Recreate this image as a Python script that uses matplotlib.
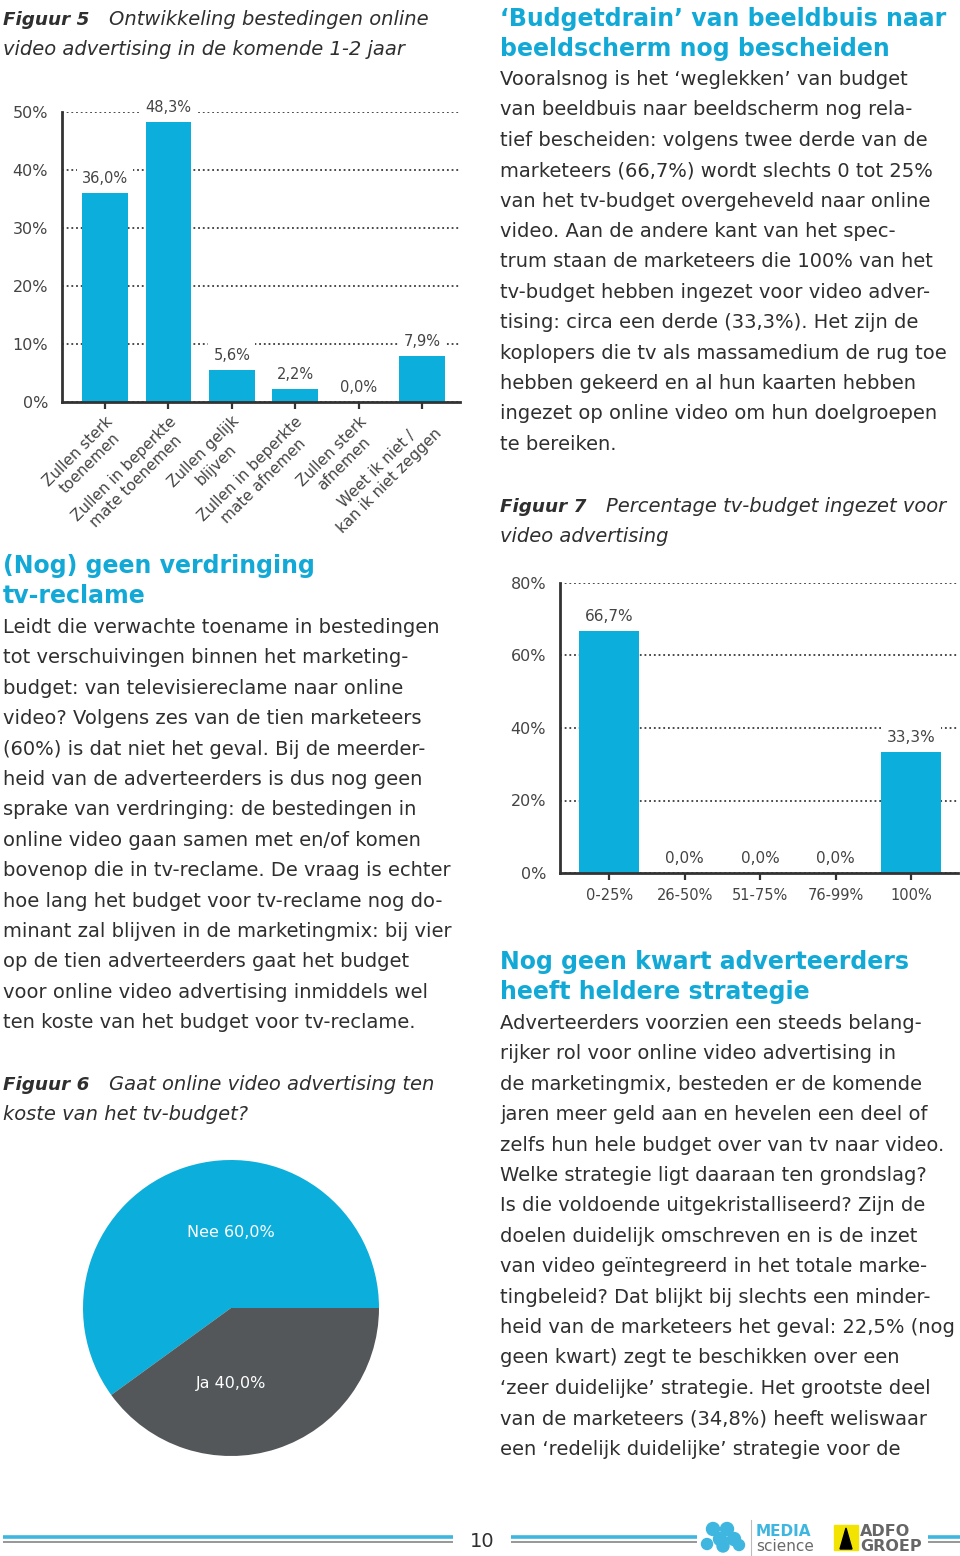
import matplotlib

matplotlib.use("Agg")
import matplotlib.pyplot as plt
from matplotlib.patches import Circle, Rectangle, Polygon


W, H = 960, 1556
CYAN = "#0caedb"
HEAD = "#12a9d7"
DARK = "#2f2f2f"
GREY = "#53575a"
FONT = "DejaVu Sans"

# Figuur 5
fig5_categories = [
    "Zullen sterk\ntoenemen",
    "Zullen in beperkte\nmate toenemen",
    "Zullen gelijk\nblijven",
    "Zullen in beperkte\nmate afnemen",
    "Zullen sterk\nafnemen",
    "Weet ik niet /\nkan ik niet zeggen",
]
fig5_values = [36.0, 48.3, 5.6, 2.2, 0.0, 7.9]
fig5_ticks = [0, 10, 20, 30, 40, 50]

# Figuur 6
fig6_labels = ["Nee", "Ja"]
fig6_values = [60.0, 40.0]

# Figuur 7
fig7_categories = ["0-25%", "26-50%", "51-75%", "76-99%", "100%"]
fig7_values = [66.7, 0.0, 0.0, 0.0, 33.3]
fig7_ticks = [0, 20, 40, 60, 80]

left_body = [
    "Leidt die verwachte toename in bestedingen",
    "tot verschuivingen binnen het marketing-",
    "budget: van televisiereclame naar online",
    "video? Volgens zes van de tien marketeers",
    "(60%) is dat niet het geval. Bij de meerder-",
    "heid van de adverteerders is dus nog geen",
    "sprake van verdringing: de bestedingen in",
    "online video gaan samen met en/of komen",
    "bovenop die in tv-reclame. De vraag is echter",
    "hoe lang het budget voor tv-reclame nog do-",
    "minant zal blijven in de marketingmix: bij vier",
    "op de tien adverteerders gaat het budget",
    "voor online video advertising inmiddels wel",
    "ten koste van het budget voor tv-reclame.",
]
right_body_1 = [
    "Vooralsnog is het \u2018weglekken\u2019 van budget",
    "van beeldbuis naar beeldscherm nog rela-",
    "tief bescheiden: volgens twee derde van de",
    "marketeers (66,7%) wordt slechts 0 tot 25%",
    "van het tv-budget overgeheveld naar online",
    "video. Aan de andere kant van het spec-",
    "trum staan de marketeers die 100% van het",
    "tv-budget hebben ingezet voor video adver-",
    "tising: circa een derde (33,3%). Het zijn de",
    "koplopers die tv als massamedium de rug toe",
    "hebben gekeerd en al hun kaarten hebben",
    "ingezet op online video om hun doelgroepen",
    "te bereiken.",
]
right_body_2 = [
    "Adverteerders voorzien een steeds belang-",
    "rijker rol voor online video advertising in",
    "de marketingmix, besteden er de komende",
    "jaren meer geld aan en hevelen een deel of",
    "zelfs hun hele budget over van tv naar video.",
    "Welke strategie ligt daaraan ten grondslag?",
    "Is die voldoende uitgekristalliseerd? Zijn de",
    "doelen duidelijk omschreven en is de inzet",
    "van video ge\u00efntegreerd in het totale marke-",
    "tingbeleid? Dat blijkt bij slechts een minder-",
    "heid van de marketeers het geval: 22,5% (nog",
    "geen kwart) zegt te beschikken over een",
    "\u2018zeer duidelijke\u2019 strategie. Het grootste deel",
    "van de marketeers (34,8%) heeft weliswaar",
    "een \u2018redelijk duidelijke\u2019 strategie voor de",
]

LINE = 30.4
BODY_SIZE = 14.0


def fx(x):
    return x / W


def fy(y):
    return 1 - y / H


def box(x0, y_top, x1, y_bottom):
    return [fx(x0), fy(y_bottom), (x1 - x0) / W, (y_bottom - y_top) / H]


def pct(v):
    return f"{v:.1f}%".replace(".", ",")


def put(fig, x, y, s, **kw):
    kw.setdefault("family", FONT)
    kw.setdefault("color", DARK)
    fig.text(fx(x), fy(y), s, va="baseline", ha="left", **kw)


def body(fig, x, y0, lines, size=BODY_SIZE):
    for i, line in enumerate(lines):
        put(fig, x, y0 + i * LINE, line, fontsize=size)


def heading(fig, x, y0, lines, size=17.0):
    for i, line in enumerate(lines):
        put(fig, x, y0 + i * LINE, line, fontsize=size, fontweight="bold", color=HEAD)


def caption(fig, x, y0, number, lines, gap=106):
    put(fig, x, y0, f"Figuur {number}", fontsize=13.2, fontstyle="italic", fontweight="bold")
    put(fig, x + gap, y0, lines[0], fontsize=BODY_SIZE, fontstyle="italic")
    put(fig, x, y0 + LINE, lines[1], fontsize=BODY_SIZE, fontstyle="italic")


def style_bar_axis(ax, ticks, ymax, pad):
    ax.set_ylim(0, ymax)
    ax.set_yticks(ticks)
    ax.set_yticklabels([f"{t}%" for t in ticks])
    ax.set_axisbelow(True)
    ax.yaxis.grid(True, linestyle=(0, (1, 1.6)), color="#3a3a3a", lw=1.3)
    for side in ("top", "right"):
        ax.spines[side].set_visible(False)
    for side in ("left", "bottom"):
        ax.spines[side].set_color("#333333")
        ax.spines[side].set_linewidth(2)
    ax.tick_params(axis="y", length=0, pad=pad, labelsize=11.5, labelcolor="#444444")
    ax.tick_params(axis="x", length=5, width=1.6, color="#333333", direction="out")


def value_labels(ax, xs, values, size):
    for x, v in zip(xs, values):
        ax.annotate(
            pct(v),
            (x, v),
            xytext=(0, 5),
            textcoords="offset points",
            ha="center",
            va="bottom",
            fontsize=size,
            color="#444444",
            annotation_clip=False,
            bbox={"boxstyle": "square,pad=0.35", "facecolor": "white", "edgecolor": "none"},
        )


def footer(fig):
    # overlay in pixel units so the logo shapes stay round
    deco = fig.add_axes([0, 0, 1, 1])
    deco.set_xlim(0, W)
    deco.set_ylim(H, 0)
    deco.axis("off")
    for x0, x1 in [(3, 453), (511, 697), (928, 960)]:
        deco.plot([x0, x1], [1537, 1537], color="#3fb6e0", lw=2.6, solid_capstyle="butt")
        deco.plot([x0, x1], [1541.5, 1541.5], color="#7a7a7a", lw=1.1, solid_capstyle="butt")
    deco.text(470, 1547, "10", fontsize=14, color=DARK, va="baseline")

    blobs = [
        (713, 1529, 6.5), (727, 1529, 6.5), (720, 1539, 6.5), (734, 1539, 6.5),
        (707, 1544, 5.5), (723, 1546, 6), (739, 1545, 5.5),
    ]
    for cx, cy, r in blobs:
        deco.add_patch(Circle((cx, cy), r, color="#3fb6e0"))
    deco.plot([751, 751], [1520, 1556], color="#bbbbbb", lw=0.8)
    deco.text(756, 1536, "MEDIA", fontsize=11, fontweight="bold", color="#3fb6e0", va="baseline")
    deco.text(756, 1551, "science", fontsize=11, color="#6a6a6a", va="baseline")
    deco.add_patch(Rectangle((834, 1525), 24, 25, color="#f3e300"))
    deco.add_patch(Polygon([(840, 1549), (846, 1528), (852, 1549)], closed=True, color="black"))
    deco.text(860, 1536, "ADFO", fontsize=11.5, fontweight="bold", color="#666666", va="baseline")
    deco.text(860, 1551, "GROEP", fontsize=11.5, fontweight="bold", color="#666666", va="baseline")


def main():
    fig = plt.figure(figsize=(W / 100, H / 100), dpi=100)

    # left column text
    caption(fig, 3, 25, 5, ["Ontwikkeling bestedingen online", "video advertising in de komende 1-2 jaar"])
    heading(fig, 3, 573, ["(Nog) geen verdringing", "tv-reclame"])
    body(fig, 3, 633, left_body)
    caption(fig, 3, 1090, 6, ["Gaat online video advertising ten", "koste van het tv-budget?"])

    # right column text
    heading(fig, 500, 26, ["\u2018Budgetdrain\u2019 van beeldbuis naar", "beeldscherm nog bescheiden"])
    body(fig, 500, 85, right_body_1)
    caption(fig, 500, 512, 7, ["Percentage tv-budget ingezet voor", "video advertising"])
    heading(fig, 500, 969, ["Nog geen kwart adverteerders", "heeft heldere strategie"])
    body(fig, 500, 1029, right_body_2)

    # Figuur 5
    ax5 = fig.add_axes(box(62, 112, 460, 402))
    x5 = list(range(len(fig5_values)))
    ax5.bar(x5, fig5_values, width=0.72, color=CYAN)
    ax5.set_xlim(-0.68, 5.6)
    style_bar_axis(ax5, fig5_ticks, 50, 10)
    ax5.set_xticks(x5)
    ax5.set_xticklabels(
        fig5_categories,
        rotation=45,
        ha="right",
        va="top",
        rotation_mode="anchor",
        multialignment="center",
        fontsize=11,
        color="#444444",
    )
    value_labels(ax5, x5, fig5_values, 10.5)

    # Figuur 7
    ax7 = fig.add_axes(box(560, 583, 958, 873))
    x7 = list(range(len(fig7_values)))
    ax7.bar(x7, fig7_values, width=0.8, color=CYAN)
    ax7.set_xlim(-0.65, 4.62)
    style_bar_axis(ax7, fig7_ticks, 80, 10)
    ax7.set_xticks(x7)
    ax7.set_xticklabels(fig7_categories, fontsize=10.5, color="#444444")
    ax7.tick_params(axis="x", pad=6)
    value_labels(ax7, x7, fig7_values, 11)

    # Figuur 6
    ax6 = fig.add_axes(box(83, 1160, 379, 1456))
    ax6.pie(fig6_values, colors=[CYAN, GREY], startangle=0, counterclock=True, radius=1)
    ax6.set_xlim(-1, 1)
    ax6.set_ylim(-1, 1)
    ax6.set_aspect("equal")
    for label, value, ypos in zip(fig6_labels, fig6_values, [0.51, -0.51]):
        ax6.text(0, ypos, f"{label} {pct(value)}", ha="center", va="center", color="white", fontsize=11.5)

    footer(fig)

    fig.savefig("out.png", dpi=100)
    plt.close(fig)


if __name__ == "__main__":
    main()
